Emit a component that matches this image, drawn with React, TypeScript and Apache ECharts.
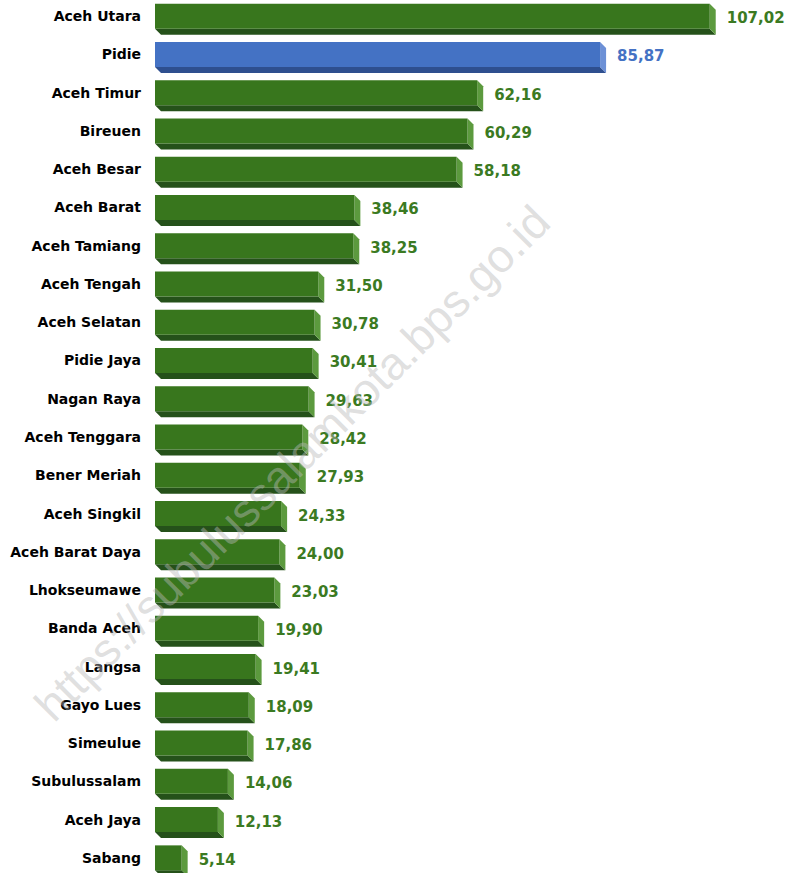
import React, { useEffect, useRef } from "react";
import * as echarts from "echarts";

const categories = [
  "Aceh Utara", "Pidie", "Aceh Timur", "Bireuen", "Aceh Besar", "Aceh Barat",
  "Aceh Tamiang", "Aceh Tengah", "Aceh Selatan", "Pidie Jaya", "Nagan Raya",
  "Aceh Tenggara", "Bener Meriah", "Aceh Singkil", "Aceh Barat Daya",
  "Lhokseumawe", "Banda Aceh", "Langsa", "Gayo Lues", "Simeulue",
  "Subulussalam", "Aceh Jaya", "Sabang",
];
const values = [
  107.02, 85.87, 62.16, 60.29, 58.18, 38.46, 38.25, 31.5, 30.78, 30.41, 29.63,
  28.42, 27.93, 24.33, 24.0, 23.03, 19.9, 19.41, 18.09, 17.86, 14.06, 12.13, 5.14,
];
const highlighted = ["Pidie"];

const GREEN = { front: "#38761d", side: "#5c9a3e", bottom: "#25511a", label: "#3b7a22" };
const BLUE = { front: "#4472c4", side: "#6c90d6", bottom: "#2e4f8f", label: "#4472c4" };

const OFFSET = 20;

function fmt(v: number) {
  return v.toFixed(2).replace(".", ",");
}

export default function App() {
  const ref = useRef<HTMLDivElement>(null);
  useEffect(() => {
    if (!ref.current) return;
    const chart = echarts.init(ref.current, null, { renderer: "svg" });
    const data = values.map((v, i) => [i, v]);
    chart.setOption({
      animation: false,
      backgroundColor: "#ffffff",
      grid: { left: 155, width: 622, top: OFFSET - 3, height: 880 },
      xAxis: { type: "value", min: 0, max: 120, show: false },
      yAxis: {
        type: "category",
        data: categories,
        inverse: true,
        axisLine: { show: false },
        axisTick: { show: false },
        splitLine: { show: false },
        axisLabel: {
          color: "#000",
          fontFamily: "DejaVu Sans",
          fontWeight: "bold",
          fontSize: 14,
          margin: 14,
        },
      },
      series: [
        {
          type: "custom",
          encode: { x: 1, y: 0 },
          data,
          renderItem: (params: any, api: any) => {
            const idx = api.value(0);
            const v = api.value(1);
            const s = api.coord([0, idx]);
            const e = api.coord([v, idx]);
            const h = 25;
            const d = 6;
            const x0 = s[0];
            const x1 = e[0];
            const cy = e[1];
            const yt = cy - h / 2;
            const yb = cy + h / 2;
            const c = highlighted.includes(categories[idx]) ? BLUE : GREEN;
            return {
              type: "group",
              children: [
                {
                  type: "polygon",
                  shape: { points: [[x0, yb], [x1, yb], [x1 + d, yb + d], [x0 + d, yb + d]] },
                  style: { fill: c.bottom },
                },
                {
                  type: "polygon",
                  shape: { points: [[x1, yt], [x1 + d, yt + d], [x1 + d, yb + d], [x1, yb]] },
                  style: { fill: c.side },
                },
                {
                  type: "rect",
                  shape: { x: x0, y: yt, width: x1 - x0, height: h },
                  style: { fill: c.front },
                },
                {
                  type: "text",
                  style: {
                    text: fmt(v),
                    x: x1 + d + 11,
                    y: cy + 2,
                    verticalAlign: "middle",
                    align: "left",
                    fill: c.label,
                    fontFamily: "DejaVu Sans",
                    fontWeight: "bold",
                    fontSize: 15,
                  },
                },
              ],
            };
          },
        },
      ],
      graphic: [
        {
          type: "text",
          x: 292,
          y: 463 + OFFSET,
          rotation: Math.PI / 4,
          z: 100,
          silent: true,
          style: {
            text: "https://subulussalamkota.bps.go.id",
            align: "center",
            verticalAlign: "middle",
            fontFamily: "Liberation Sans",
            fontSize: 46,
            fill: "rgba(185,185,185,0.45)",
          },
        },
      ],
    });
    return () => chart.dispose();
  }, []);
  return (
    <div
      ref={ref}
      style={{ position: "fixed", left: 0, top: -OFFSET, width: 793, height: 873 + 2 * OFFSET, background: "#fff" }}
    />
  );
}
